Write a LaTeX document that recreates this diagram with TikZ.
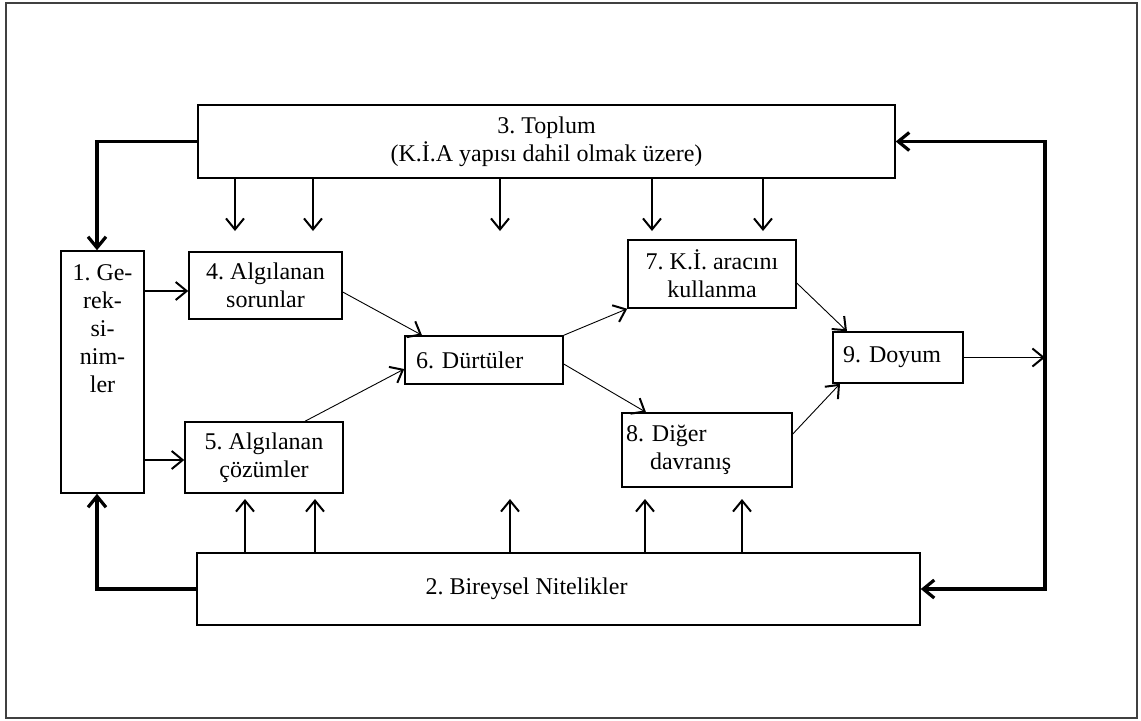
\documentclass[tikz,border=0pt]{standalone}
\usepackage{fontspec}
\setmainfont{Liberation Serif}
\usetikzlibrary{arrows.meta,calc,positioning}
\frenchspacing

\begin{document}
\begin{tikzpicture}[x=0.5pt,y=-0.5pt,
    box/.style={draw=black, line width=0.75pt, inner sep=0pt, align=center,
      font=\fontsize{12}{14}\selectfont},
    lbox/.style={box, align=left},
    arr/.style={line width=0.6pt, -{Straight Barb[length=5.5pt,width=9pt,line width=1pt]}},
    slant/.style={line width=0.45pt, -{Straight Barb[length=5.5pt,width=9pt,line width=1pt]}},
    fat/.style={line width=1.6pt, -{Straight Barb[length=5.5pt,width=9pt]}}]
        \useasboundingbox (0,0) rectangle (1141,720);
        % frame
        \draw[black!75, line width=0.6pt] (6,3) rectangle (1137,718);
        % the boxes
        \node[box, minimum width=348.5pt, minimum height=36.5pt] (b3) at (546.5,141.5)
          {3. Toplum\\(K.İ.A yapısı dahil olmak üzere)};
        \node[box, minimum width=361.5pt, minimum height=36pt] (b2) at (558.5,589)
          {2. Bireysel Nitelikler\hspace*{32pt}};
        \node[box, minimum width=41.5pt, minimum height=121pt] (b1) at (102.5,372) {};
        \node[align=center, anchor=north, inner sep=0pt, font=\fontsize{12}{14}\selectfont]
          (b1t) at ([yshift=-7pt]b1.north) {1. Ge-\\rek-\\si-\\nim-\\ler};
        \node[box, minimum width=76.5pt, minimum height=33.5pt] (b4) at (265.5,285.5)
          {4. Algılanan\\sorunlar};
        \node[box, minimum width=79pt, minimum height=35.5pt] (b5) at (264,457.5)
          {5. Algılanan\\çözümler};
        \node[lbox, text width=68pt, inner xsep=5.5pt, minimum height=24pt] (b6) at (484,360)
          {6. Dürtüler};
        \node[box, minimum width=84pt, minimum height=34pt] (b7) at (712,274)
          {7. K.İ. aracını\\kullanma};
        \node[lbox, text width=81pt, inner xsep=2pt, minimum height=37pt] (b8) at (707,450)
          {8. Diğer\\\hspace*{12pt}davranış};
        \node[lbox, text width=55pt, inner xsep=5pt, minimum height=25.5pt] (b9) at (898,357.5)
          {9. Doyum};
        % influences of 3 and 2
        \foreach \x in {235,313,500,652,763}
          \draw[arr] (\x,0 |- b3.south) -- (\x,231);
        \foreach \x in {245,315,510,645,742}
          \draw[arr] (\x,0 |- b2.north) -- (\x,499);
        % 1 to 4 and 5
        \draw[arr] (b1.east |- 0,291) -- (b4.west |- 0,291);
        \draw[arr] (b1.east |- 0,460) -- (b5.west |- 0,460);
        % to 6
        \draw[slant] (b4.east |- 0,292) -- (422,0 |- b6.north);
        \draw[slant] (305,0 |- b5.north) -- (b6.west |- 0,369);
        % from 6
        \draw[slant] (b6.north east) -- (b7.south west);
        \draw[slant] (b6.east |- 0,364) -- (646,0 |- b8.north);
        % to 9
        \draw[slant] (b7.east |- 0,283) -- (847,0 |- b9.north);
        \draw[slant] (b8.east |- 0,434) -- (840,0 |- b9.south);
        % feedback
        \coordinate (rj) at (1045,357.5);
        \draw[arr] (b9.east) -- (rj);
        \draw[fat] (rj) |- (b3.east);
        \draw[fat] (rj) |- (b2.east);
        \draw[fat] (b3.west) -| ([xshift=-2.75pt]b1.north);
        \draw[fat] (b2.west) -| ([xshift=-2.75pt]b1.south);
      \end{tikzpicture}
\end{document}
